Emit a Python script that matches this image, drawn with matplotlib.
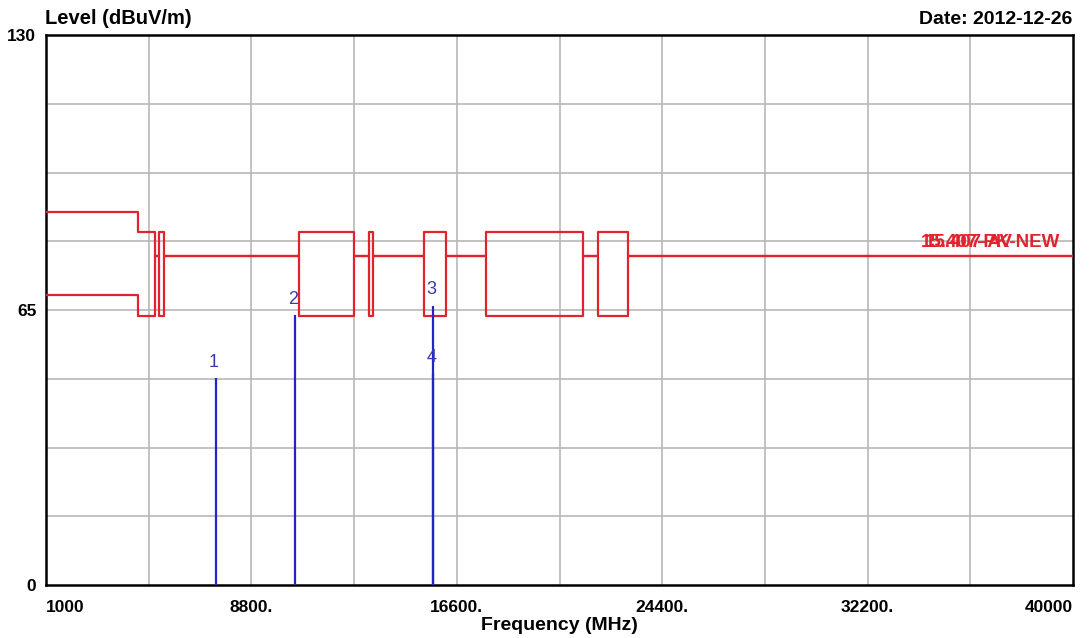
import numpy as np
import matplotlib
matplotlib.use('Agg')
import matplotlib.pyplot as plt

plt.rcParams.update({
    'font.family': ['Liberation Sans', 'DejaVu Sans'],
    'font.size': 12,
})

# ===================== DATA =====================
# limit lines (two traces: upper / lower envelope), step edges in MHz
lim_edges = [1000, 4500, 5150, 5300, 5480, 10600, 12700, 13250, 13400,
             15350, 16200, 17700, 21400, 21950, 23120, 40000]
lim_upper = [88.2, 83.5, 77.8, 83.5, 77.8, 83.5, 77.8, 83.5, 77.8,
             83.5, 77.8, 83.5, 77.8, 83.5, 77.8]
lim_lower = [68.5, 63.6, 77.8, 63.6, 77.8, 63.6, 77.8, 63.6, 77.8,
             63.6, 77.8, 63.6, 77.8, 63.6, 77.8]
lim_names = ['15.407-PK-NEW', '15.407-AV']

# markers
mk_labels = ['1', '2', '3', '4']
mk_freq = [7455, 10466, 15706, 15706]
mk_level = [48.9, 63.8, 66.0, 50.0]

x_ticks = [1000, 8800, 16600, 24400, 32200, 40000]
x_ticklabels = ['1000', '8800.', '16600.', '24400.', '32200.', '40000']
y_ticks = [0, 65, 130]

# ===================== PLOT =====================
W, H = 1092, 638
fig = plt.figure(figsize=(W / 100, H / 100), dpi=100)
ax = fig.add_axes([46 / W, 1 - 585 / H, 1027 / W, 550 / H])
ax.set_xlim(1000, 40000)
ax.set_ylim(0, 130)

# grid
for gx in np.arange(1000, 40001, 3900)[1:-1]:
    ax.axvline(gx, color='#b8b8b8', lw=1.2, zorder=1)
for gy in np.arange(0, 130.1, 16.25)[1:-1]:
    ax.axhline(gy, color='#b8b8b8', lw=1.2, zorder=1)

red = '#e2232e'
ax.step(lim_edges, lim_upper + [lim_upper[-1]], where='post', color=red, lw=1.6, zorder=3)
ax.step(lim_edges, lim_lower + [lim_lower[-1]], where='post', color=red, lw=1.6, zorder=3)

# limit names (overlapping, as in the original)
ax.annotate(lim_names[0], xy=(40000, lim_upper[-1]), xytext=(-152, 5),
            textcoords='offset pixels', ha='left', va='bottom',
            color=red, fontsize=13.5, fontweight='bold', zorder=4)
ax.annotate(lim_names[1], xy=(40000, lim_upper[-1]), xytext=(-148, 5),
            textcoords='offset pixels', ha='left', va='bottom',
            color=red, fontsize=13.5, fontweight='bold', zorder=4)

# markers
blue = '#2323c8'
ax.vlines(mk_freq, 0, mk_level, color=blue, lw=1.6, zorder=4)
for lab, f, v in zip(mk_labels, mk_freq, mk_level):
    ax.annotate(lab, xy=(f, v), xytext=(-2, 16), textcoords='offset pixels',
                ha='center', va='center', color='#3a3aaa', fontsize=13, zorder=5)

# axes styling
for s in ax.spines.values():
    s.set_linewidth(1.8)
    s.set_color('black')
ax.set_xticks(x_ticks)
ax.set_xticklabels(x_ticklabels, fontsize=12.5, fontweight='bold')
ax.get_xticklabels()[0].set_ha('left')
ax.get_xticklabels()[-1].set_ha('right')
ax.set_yticks(y_ticks)
ax.set_yticklabels([str(v) for v in y_ticks], fontsize=12.5, fontweight='bold')
ax.tick_params(axis='both', length=0)
ax.tick_params(axis='x', pad=11)
ax.tick_params(axis='y', pad=7)

fig.text(45 / W, 1 - 19 / H, 'Level (dBuV/m)', ha='left', va='center',
         fontsize=14.5, fontweight='bold')
fig.text(1072 / W, 1 - 19 / H, 'Date: 2012-12-26', ha='right', va='center',
         fontsize=14, fontweight='bold')
fig.text(559 / W, 1 - 626 / H, 'Frequency (MHz)', ha='center', va='center',
         fontsize=14, fontweight='bold')

fig.savefig('out.png', dpi=100)
